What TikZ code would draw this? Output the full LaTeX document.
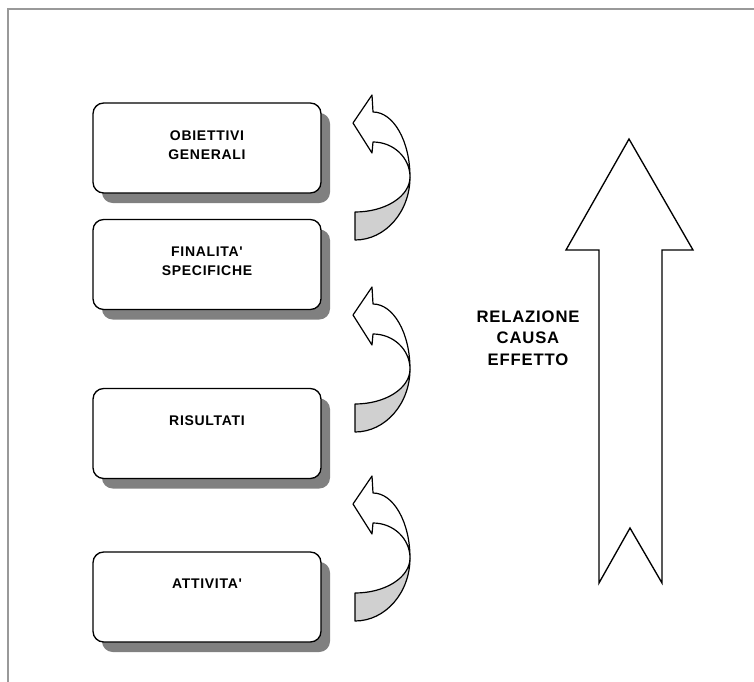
\documentclass[tikz,border=0pt]{standalone}
\usepackage{fontspec}
\setmainfont{Liberation Sans}[Ligatures=TeXOff]
\usepackage{xcolor}
\usetikzlibrary{shadows}

\definecolor{shadowgray}{HTML}{808080}
\definecolor{backgray}{HTML}{D0D0D0}
\definecolor{framegray}{HTML}{999999}

% text of a level box, hung from the top edge
\newcommand{\boxlabel}[1]{%
  \parbox[c][67.5pt][t]{171pt}{\centering\vspace*{20.5pt}%
    \fontsize{10.5}{14.25}\selectfont\bfseries\addfontfeatures{LetterSpace=5}#1}}

\begin{document}
\begin{tikzpicture}[x=0.75pt, y=0.75pt,
  tierbox/.style={draw, line width=1pt, rounded corners=8pt, fill=white, inner sep=0pt,
    drop shadow={shadow xshift=6.75pt, shadow yshift=-7.5pt, fill=shadowgray, opacity=1}},
  turnarrow/.style={draw, line width=0.9pt, line join=round}]
  \useasboundingbox (0,0) rectangle (754,-682);

  % page frame
  \draw[framegray, line width=1.1pt] (8,-682) -- (8,-9) -- (754,-9);

  % the four levels
  \node[tierbox] (obiettivi) at (207,-148) {\boxlabel{OBIETTIVI\\GENERALI}};
  \node[tierbox] (finalita) at (207,-264.5) {\boxlabel{FINALITA'\\SPECIFICHE}};
  \node[tierbox] (risultati) at (207,-433.5) {\boxlabel{RISULTATI}};
  \node[tierbox] (attivita) at (207,-597) {\boxlabel{ATTIVITA'}};

  % bent arrows between the levels
  \foreach \dy in {0,192,381} {
    \begin{scope}[shift={(0,-\dy)}]
      \path[turnarrow, fill=backgray] (410,-177)
        arc[start angle=0, end angle=-90, x radius=55, y radius=63]
        -- (355,-212)
        arc[start angle=-90, end angle=0, x radius=55, y radius=35];
      \path[turnarrow, fill=white] (373,-112)
        arc[start angle=90, end angle=0, x radius=37, y radius=65]
        arc[start angle=0, end angle=90, x radius=37, y radius=35]
        -- (372,-153) -- (353,-123) -- (372,-95) -- cycle;
    \end{scope}
  }

  % big arrow with its label
  \draw[line width=1pt, line join=miter] (629,-139) -- (693,-250) -- (662,-250)
    -- (662,-583) -- (630,-528) -- (599,-583) -- (599,-250) -- (566,-250) -- cycle;
  \node[font=\fontsize{12.5}{16.3}\selectfont\bfseries\addfontfeatures{LetterSpace=5},
    align=center] (relazione) at (528,-338) {RELAZIONE\\CAUSA\\EFFETTO};
\end{tikzpicture}
\end{document}
